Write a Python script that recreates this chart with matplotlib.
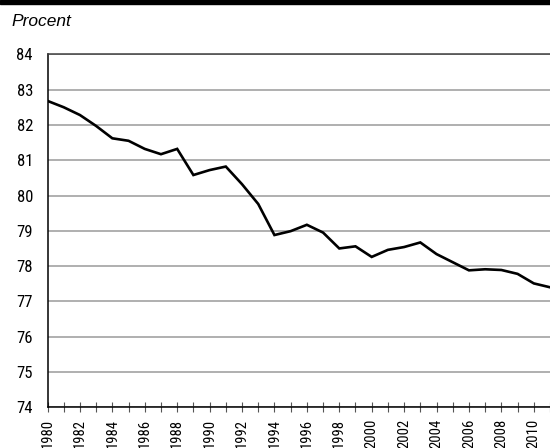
import matplotlib
matplotlib.use("Agg")
import matplotlib.pyplot as plt
from matplotlib.patches import Rectangle
from matplotlib import font_manager

years = list(range(1980, 2012))
values = [82.68, 82.50, 82.28, 81.97, 81.62, 81.55, 81.32, 81.17, 81.32, 80.58,
          80.72, 80.82, 80.32, 79.76, 78.88, 78.99, 79.17, 78.95, 78.50, 78.56,
          78.26, 78.46, 78.54, 78.67, 78.34, 78.11, 77.88, 77.91, 77.89, 77.78,
          77.51, 77.40]
ytick_values = list(range(74, 85))
xtick_labels = [str(y) for y in range(1980, 2011, 2)]
ylabel_text = "Procent"

names = {f.name for f in font_manager.fontManager.ttflist}
cond = None
for cand in ["Liberation Sans Narrow", "DejaVu Sans Condensed", "Roboto Condensed", "Open Sans Condensed"]:
    if cand in names:
        cond = cand
        break

W, H = 550, 448
fig = plt.figure(figsize=(W / 100, H / 100), dpi=100)
left, bottom, top = 47.5 / W, (H - 407.3) / H, (H - 54.3) / H
ax = fig.add_axes([left, bottom, 1.0 - left, top - bottom])

ax.plot(years, values, color="black", lw=1.9, solid_joinstyle="miter", zorder=3)

ax.set_xlim(1980, 1980 + (W - 47.5) / 16.5)
ax.set_ylim(74, 84)
ax.set_yticks(ytick_values)
ax.set_yticklabels([str(v) for v in ytick_values])
ax.set_xticks(range(1980, 2011, 2))
ax.set_xticklabels(xtick_labels, rotation=90, va="top", ha="center")
ax.set_xticks(range(1980, 2012), minor=True)

ax.grid(axis="y", color="#9a9a9a", lw=1.1, zorder=1)
ax.set_axisbelow(True)

ax.spines["right"].set_visible(False)
ax.spines["top"].set_color("#404040")
ax.spines["top"].set_linewidth(1.1)
ax.spines["left"].set_color("black")
ax.spines["left"].set_linewidth(1.1)
ax.spines["bottom"].set_color("black")
ax.spines["bottom"].set_linewidth(1.1)

fam = [cond, "DejaVu Sans"] if cond else ["DejaVu Sans"]
ax.tick_params(axis="y", length=0, pad=10.5, labelsize=12)
ax.tick_params(axis="x", which="both", direction="inout", length=7, width=0.8,
               color="#555555", pad=5, labelsize=10.5)
for lab in ax.get_xticklabels() + ax.get_yticklabels():
    lab.set_fontfamily(fam)

fig.text(11 / W, 1 - 21 / H, ylabel_text, fontsize=12.5, style="italic",
         family="Liberation Sans", va="center", ha="left")

fig.patches.append(Rectangle((0, 1 - 4.5 / H), 1, 4.5 / H, transform=fig.transFigure,
                             color="black", zorder=10))

fig.savefig("out.png", dpi=100)
